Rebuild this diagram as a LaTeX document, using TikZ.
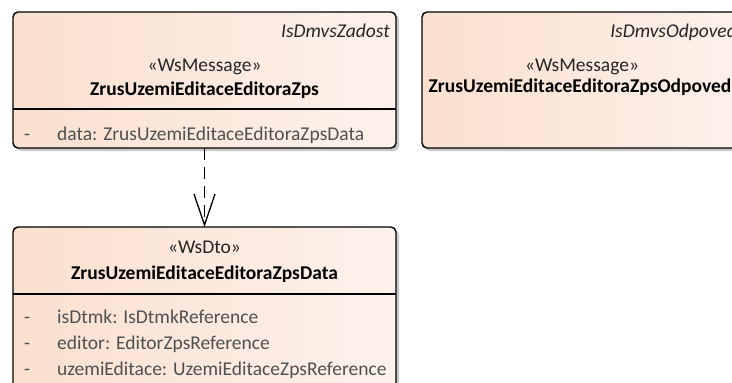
\documentclass[tikz,border=0pt]{standalone}
\usepackage{fontspec}
\setmainfont{Carlito}
\usetikzlibrary{arrows.meta}
\definecolor{peachL}{HTML}{FAE0CF}
\definecolor{peachR}{HTML}{FDF2EB}
\definecolor{shadowc}{HTML}{C8C8C8}
\definecolor{attrc}{HTML}{505050}
\begin{document}
\begin{tikzpicture}[x=1pt,y=-1pt,
  umlbox/.style={draw=black, line width=1.4pt, rounded corners=5pt,
    left color=peachL, right color=peachR, anchor=north west,
    inner sep=0pt, outer sep=0pt},
  shadowbox/.style={fill=shadowc, rounded corners=5pt, draw=none},
  txt/.style={inner sep=0pt, anchor=base, font=\fontsize{19.5}{23}\selectfont},
  stereo/.style={txt, text=black!85},
  cname/.style={txt, font=\fontsize{19.5}{23}\selectfont\bfseries},
  tagtxt/.style={txt, anchor=base east, font=\fontsize{19.5}{23}\selectfont\itshape, text=black!85},
  attr/.style={txt, anchor=base west, text=attrc},
  sep/.style={line width=1.2pt},
  dep/.style={line width=1.3pt, dash pattern=on 12pt off 7pt,
    -{Straight Barb[length=31pt,width=21pt,line width=1.3pt]}}
]
\useasboundingbox (0,0) rectangle (732,383);
% shadows
\fill[shadowbox] (16,15) rectangle (399,151);
\fill[shadowbox] (425,15) rectangle (760,151);
\fill[shadowbox] (16,230) rectangle (399,420);
% boxes
\node[umlbox, minimum width=383pt, minimum height=136pt] (zps) at (13,12) {};
\node[umlbox, minimum width=330pt, minimum height=136pt] (odp) at (422,12) {};
\node[umlbox, minimum width=383pt, minimum height=180pt] (data) at (13,227) {};
% separators
\draw[sep] (13,109) -- (396,109);
\draw[sep] (13,294) -- (396,294);
% box 1 texts
\node[tagtxt] (t1) at (390,37) {IsDmvsZadost};
\node[stereo] (s1) at (204.5,71) {«WsMessage»};
\node[cname] (n1) at (204.5,95) {ZrusUzemiEditaceEditoraZps};
\node[attr] (d1) at (24,140) {-};
\node[attr] (a1) at (57,140) {data: ZrusUzemiEditaceEditoraZpsData};
% box 2 texts
\node[tagtxt] (t2) at (737,37) {IsDmvsOdpoved};
\node[stereo] (s2) at (582,71) {«WsMessage»};
\node[cname] (n2) at (580,92) {ZrusUzemiEditaceEditoraZpsOdpoved};
% box 3 texts
\node[stereo] (s3) at (204.5,253) {«WsDto»};
\node[cname] (n3) at (204.5,279) {ZrusUzemiEditaceEditoraZpsData};
\node[attr] (d31) at (24,323) {-};
\node[attr] (a31) at (57,323) {isDtmk: IsDtmkReference};
\node[attr] (d32) at (24,349) {-};
\node[attr] (a32) at (57,349) {editor: EditorZpsReference};
\node[attr] (d33) at (24,375) {-};
\node[attr] (a33) at (57,375) {uzemiEditace: UzemiEditaceZpsReference};
% dependency
\draw[dep] (zps.south) -- (data.north);
\end{tikzpicture}
\end{document}
